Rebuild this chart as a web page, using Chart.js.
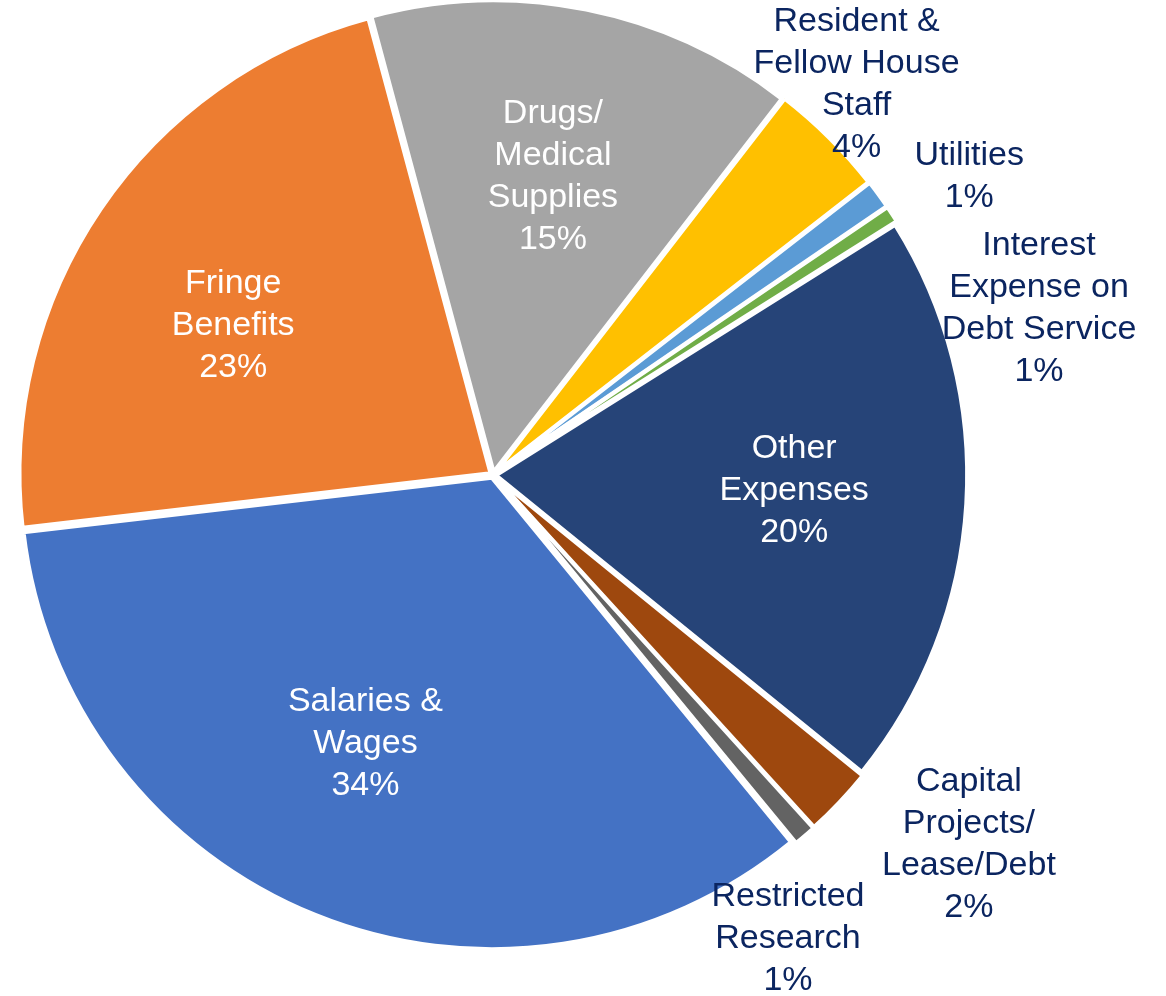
<!DOCTYPE html>
<html>
<head>
<meta charset="utf-8">
<script src="https://cdn.jsdelivr.net/npm/chart.js@4.4.1/dist/chart.umd.min.js"></script>
<style>
  html, body { margin: 0; padding: 0; background: #fff; }
  #wrap { width: 1166px; height: 996px; position: relative; }
</style>
</head>
<body>
<div id="wrap"><canvas id="expenseChart"></canvas></div>
<script>
'use strict';

// categories, already wrapped the way the labels read
var categories = [
    ['Salaries &', 'Wages'],
    ['Fringe', 'Benefits'],
    ['Drugs/', 'Medical', 'Supplies'],
    ['Resident &', 'Fellow House', 'Staff'],
    ['Utilities'],
    ['Interest', 'Expense on', 'Debt Service'],
    ['Other', 'Expenses'],
    ['Capital', 'Projects/', 'Lease/Debt'],
    ['Restricted', 'Research']
];

// share of expenses, %
var shares = [34.0, 22.6, 14.6, 4.0, 1.0, 0.6, 19.7, 2.4, 0.8];

var sliceColors = ['#4472C4', '#ED7D31', '#A5A5A5', '#FFC000', '#5B9BD5',
                   '#70AD47', '#264478', '#9E480E', '#636363'];

// where each label sits: fraction of radius, angle shift from slice middle (deg)
var labelSpots = [
    {inside: true,  r: 0.625, da: 3.7},
    {inside: true,  r: 0.64,  da: -3.7},
    {inside: true,  r: 0.653, da: -0.1},
    {inside: false, r: 1.138, da: -2.2},
    {inside: false, r: 1.197, da: 3.7},
    {inside: false, r: 1.214, da: 15.9},
    {inside: true,  r: 0.64,  da: -1},
    {inside: false, r: 1.275, da: -5.8},
    {inside: false, r: 1.161, da: 8.2}
];

var sliceLabels = {
    id: 'sliceLabels',
    afterDatasetsDraw: function (chart) {
        var ctx = chart.ctx;
        var meta = chart.getDatasetMeta(0);
        var data = chart.data.datasets[0].data;
        var total = data.reduce(function (a, b) { return a + b; }, 0);
        ctx.save();
        ctx.font = '34px "Liberation Sans", Arial, sans-serif';
        ctx.textAlign = 'center';
        ctx.textBaseline = 'middle';
        meta.data.forEach(function (arc, i) {
            var p = arc.getProps(['x', 'y', 'startAngle', 'endAngle', 'outerRadius'], true);
            var spot = labelSpots[i];
            var a = (p.startAngle + p.endAngle) / 2 + spot.da * Math.PI / 180;
            var r = p.outerRadius * spot.r;
            var cx = p.x + Math.cos(a) * r;
            var cy = p.y + Math.sin(a) * r + 3;
            var lines = chart.data.labels[i].concat([Math.round(data[i] / total * 100) + '%']);
            ctx.fillStyle = spot.inside ? '#ffffff' : '#0b2560';
            var lh = 42;
            lines.forEach(function (t, k) {
                ctx.fillText(t, cx, cy + (k - (lines.length - 1) / 2) * lh);
            });
        });
        ctx.restore();
    }
};

var ctx = document.getElementById('expenseChart').getContext('2d');
var myChart = new Chart(ctx, {
    type: 'pie',
    data: {
        labels: categories,
        datasets: [{
            data: shares,
            backgroundColor: sliceColors,
            borderColor: '#ffffff',
            borderWidth: 4,
            offset: 12,
            hoverOffset: 0
        }]
    },
    options: {
        responsive: true,
        maintainAspectRatio: false,
        animation: false,
        rotation: 140.6,
        radius: 471,
        layout: { padding: { left: 0, right: 180, top: 0, bottom: 46 } },
        plugins: {
            legend: { display: false },
            tooltip: { enabled: false }
        }
    },
    plugins: [sliceLabels]
});
</script>
</body>
</html>
